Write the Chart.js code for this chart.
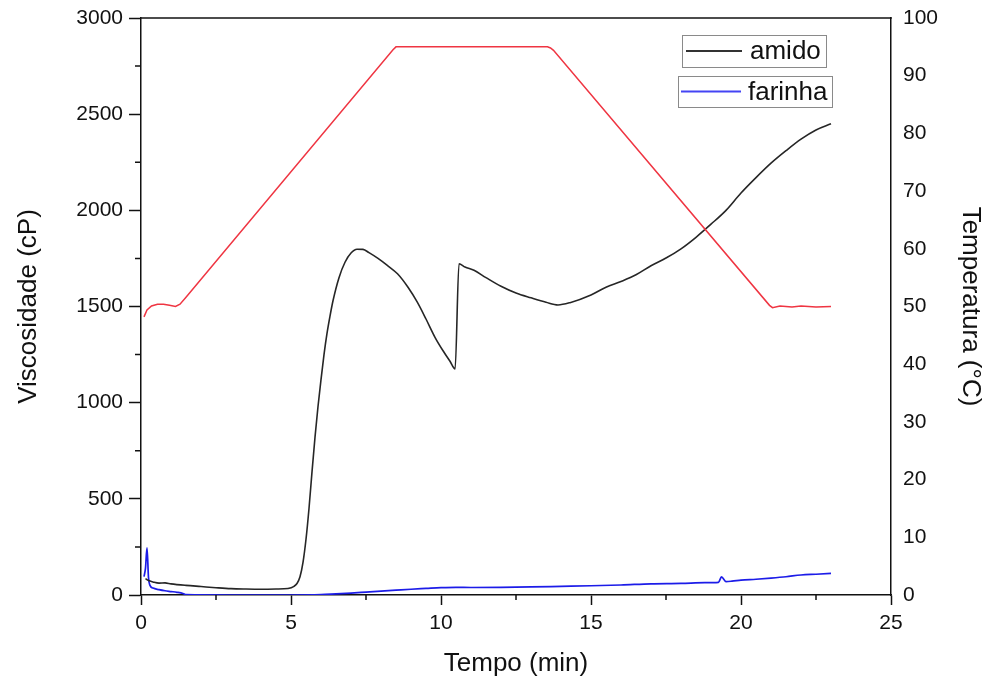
<!DOCTYPE html>
<html>
<head>
<meta charset="utf-8">
<title>Viscosidade e temperatura</title>
<script src="https://cdn.jsdelivr.net/npm/chart.js@4.4.1/dist/chart.umd.min.js"></script>
<style>
  html, body { margin: 0; padding: 0; background: #fff; }
  #wrap { width: 992px; height: 682px; }
</style>
</head>
<body>
<div id="wrap"><canvas id="c" width="992" height="682"></canvas></div>
<script>
// Temperature programme (°C, right axis)
const tempoTemp = [0.10, 0.20, 0.35, 0.55, 0.75, 0.95, 1.15, 1.30, 1.50, 8.40, 8.50, 8.60, 13.55, 13.65, 13.75, 20.95, 21.05, 21.30, 21.70, 22.00, 22.50, 23.00];
const temperatura = [48.2, 49.4, 50.1, 50.4, 50.4, 50.2, 50.0, 50.4, 51.6, 94.5, 95.0, 95.0, 95.0, 94.8, 94.4, 50.2, 49.8, 50.1, 49.9, 50.1, 49.9, 50.0];

// Starch viscosity (cP, left axis)
const tempoAmido = [0.15, 0.25, 0.40, 0.60, 0.80, 1.00, 1.50, 2.00, 2.50, 3.00, 3.50, 4.00, 4.50, 4.90, 5.10, 5.20, 5.30, 5.40, 5.50, 5.60, 5.70, 5.80, 5.90, 6.00, 6.10, 6.20, 6.30, 6.40, 6.60, 6.80, 7.00, 7.20, 7.40, 7.60, 7.90, 8.20, 8.55, 8.90, 9.20, 9.50, 9.80, 10.10, 10.30, 10.47, 10.60, 10.80, 11.10, 11.50, 12.00, 12.50, 13.00, 13.50, 13.90, 14.30, 15.00, 15.50, 16.00, 16.50, 17.00, 17.50, 18.00, 18.50, 19.00, 19.50, 20.00, 20.50, 21.00, 21.50, 22.00, 22.50, 23.00];
const amido = [85, 75, 68, 62, 63, 58, 50, 44, 38, 33, 31, 30, 31, 34, 45, 60, 95, 170, 290, 450, 640, 820, 980, 1120, 1250, 1360, 1450, 1530, 1650, 1730, 1778, 1798, 1797, 1780, 1750, 1715, 1670, 1600, 1525, 1435, 1340, 1262, 1215, 1175, 1722, 1705, 1688, 1650, 1605, 1570, 1545, 1522, 1508, 1520, 1560, 1600, 1630, 1665, 1712, 1752, 1800, 1860, 1928, 2000, 2090, 2170, 2245, 2310, 2370, 2418, 2450];

// Flour viscosity (cP, left axis)
const tempoFarinha = [0.10, 0.15, 0.20, 0.25, 0.30, 0.40, 0.60, 0.80, 1.00, 1.20, 1.40, 1.50, 3.00, 5.00, 6.00, 6.50, 7.00, 7.50, 8.00, 8.50, 9.00, 9.50, 10.00, 10.50, 11.00, 12.00, 13.00, 14.00, 15.00, 16.00, 17.00, 18.00, 18.80, 19.25, 19.35, 19.50, 19.70, 20.00, 20.50, 21.00, 21.50, 22.00, 22.50, 23.00];
const farinha = [95, 140, 245, 90, 50, 36, 28, 22, 18, 14, 8, 2, 0, 0, 2, 6, 10, 15, 20, 25, 30, 34, 38, 40, 39, 40, 42, 45, 48, 52, 58, 60, 64, 66, 94, 70, 72, 77, 82, 88, 95, 104, 108, 112];

// Axis tick steps
const tempoStep = 5;
const viscStep = 500;
const tempStep = 10;

const pairs = (xs, ys) => xs.map((x, i) => ({ x: x, y: ys[i] }));
const plain = v => String(v);

const FONT = "'Liberation Sans', Arial, sans-serif";
Chart.defaults.font.family = FONT;
Chart.defaults.color = '#111';

const INK = '#111';

// keep the plot frame fixed regardless of label overhang
const noOverhang = s => { s.paddingTop = 0; s.paddingBottom = 0; s.paddingLeft = 0; s.paddingRight = 0; };

// Frame top edge, minor ticks and the boxed legend entries
const decor = {
  id: 'decor',
  afterDraw(chart) {
    const { ctx, chartArea: a, scales } = chart;
    const x = scales.x, y = scales.y;
    ctx.save();
    ctx.strokeStyle = INK;
    ctx.lineWidth = 1.5;
    ctx.beginPath();
    ctx.moveTo(a.left - 0.75, a.top);
    ctx.lineTo(a.right + 0.75, a.top);
    ctx.stroke();

    ctx.beginPath();
    for (let v = tempoStep / 2; v < x.max; v += tempoStep) {
      const px = x.getPixelForValue(v);
      ctx.moveTo(px, a.bottom);
      ctx.lineTo(px, a.bottom + 5);
    }
    for (let v = viscStep / 2; v < y.max; v += viscStep) {
      const py = y.getPixelForValue(v);
      ctx.moveTo(a.left, py);
      ctx.lineTo(a.left - 6, py);
    }
    ctx.stroke();

    // legend: one framed entry per viscosity series
    const entries = [
      { ds: chart.data.datasets[1], box: [682, 35, 144, 32], line: [686, 742], ty: 51, tx: 750, color: '#333' },
      { ds: chart.data.datasets[2], box: [678, 76, 154, 31], line: [681, 741], ty: 91.5, tx: 748, color: '#4444f4' }
    ];
    ctx.font = "26px " + FONT;
    ctx.textBaseline = 'middle';
    ctx.textAlign = 'left';
    entries.forEach(e => {
      ctx.strokeStyle = '#8a8a8a';
      ctx.lineWidth = 1;
      ctx.strokeRect(e.box[0] + 0.5, e.box[1] + 0.5, e.box[2], e.box[3]);
      ctx.strokeStyle = e.color;
      ctx.lineWidth = 2;
      ctx.beginPath();
      ctx.moveTo(e.line[0], e.ty);
      ctx.lineTo(e.line[1], e.ty);
      ctx.stroke();
      ctx.fillStyle = INK;
      ctx.fillText(e.ds.label, e.tx, e.ty + 1);
    });
    ctx.restore();
  }
};

new Chart(document.getElementById('c'), {
  type: 'line',
  data: {
    datasets: [
      {
        label: 'Temperatura',
        data: pairs(tempoTemp, temperatura),
        yAxisID: 'y2',
        borderColor: '#ef3542',
        borderWidth: 1.5,
        pointRadius: 0,
        tension: 0
      },
      {
        label: 'amido',
        data: pairs(tempoAmido, amido),
        yAxisID: 'y',
        borderColor: '#262626',
        borderWidth: 1.6,
        pointRadius: 0,
        cubicInterpolationMode: 'monotone'
      },
      {
        label: 'farinha',
        data: pairs(tempoFarinha, farinha),
        yAxisID: 'y',
        borderColor: '#1c1ce8',
        borderWidth: 1.7,
        pointRadius: 0,
        cubicInterpolationMode: 'monotone'
      }
    ]
  },
  options: {
    responsive: false,
    animation: false,
    layout: { padding: { top: 18, left: 0, right: 0, bottom: 0 } },
    plugins: { legend: { display: false }, tooltip: { enabled: false } },
    scales: {
      x: {
        type: 'linear',
        min: 0,
        max: 25,
        ticks: { stepSize: tempoStep, padding: 6, font: { size: 21 }, color: INK, maxRotation: 0, callback: plain },
        grid: { drawOnChartArea: false, tickLength: 10, tickColor: INK, tickWidth: 1.5 },
        border: { color: INK, width: 1.5 },
        title: { display: true, text: 'Tempo (min)', font: { size: 26 }, color: INK, padding: { top: 0, bottom: 3 } },
        afterFit(s) { s.height = 87; noOverhang(s); }
      },
      y: {
        position: 'left',
        min: 0,
        max: 3000,
        ticks: { stepSize: viscStep, padding: 6, font: { size: 21 }, color: INK, callback: plain },
        grid: { drawOnChartArea: false, tickLength: 12, tickColor: INK, tickWidth: 1.5 },
        border: { color: INK, width: 1.5 },
        title: { display: true, text: 'Viscosidade (cP)', font: { size: 26 }, color: INK, padding: { top: 13, bottom: 0 } },
        afterFit(s) { s.width = 141; noOverhang(s); }
      },
      y2: {
        position: 'right',
        min: 0,
        max: 100,
        ticks: { stepSize: tempStep, padding: 12, font: { size: 21 }, color: INK, callback: plain },
        grid: { drawOnChartArea: false, drawTicks: false },
        border: { color: INK, width: 1.5 },
        title: { display: true, text: 'Temperatura (°C)', font: { size: 26 }, color: INK, padding: { top: 6, bottom: 0 } },
        afterFit(s) { s.width = 101; noOverhang(s); }
      }
    }
  },
  plugins: [decor]
});
</script>
</body>
</html>
